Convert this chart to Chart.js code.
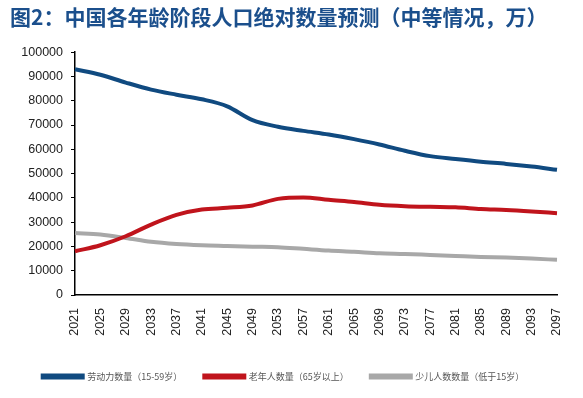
<!DOCTYPE html>
<html>
<head>
<meta charset="utf-8">
<script src="https://cdn.jsdelivr.net/npm/chart.js@4/dist/chart.umd.min.js"></script>
<style>
  html, body { margin: 0; padding: 0; background: #fff; }
  #wrap { width: 583px; height: 398px; }
</style>
</head>
<body>
<div id="wrap"><canvas id="line-chart"></canvas></div>
<script>
// years shown on the axis (every 4th year)
const years = [2021, 2025, 2029, 2033, 2037, 2041, 2045, 2049, 2053, 2057,
               2061, 2065, 2069, 2073, 2077, 2081, 2085, 2089, 2093, 2097];

// 万人
const labour = [93000, 90700, 87500, 84600, 82500, 80600, 77700, 72000, 69300, 67600,
                66100, 64200, 62000, 59400, 57200, 56000, 54900, 54000, 52900, 51600];
const elderly = [18000, 20500, 24200, 29000, 33000, 35200, 35900, 36900, 39600, 40200,
                 39200, 38300, 37200, 36600, 36300, 36100, 35400, 35000, 34400, 33700];
const children = [25500, 24900, 23500, 21900, 21000, 20500, 20200, 19900, 19700, 19000,
                  18300, 17800, 17200, 16900, 16500, 16100, 15700, 15400, 15000, 14500];

const yTicks = [0, 10000, 20000, 30000, 40000, 50000, 60000, 70000, 80000, 90000, 100000];

const tickFont = { family: "'Liberation Sans', Arial, sans-serif", size: 12.5 };

new Chart(document.getElementById("line-chart"), {
  type: 'line',
  data: {
    labels: years.map(String),
    datasets: [
      {
        label: "劳动力数量（15-59岁）",
        data: labour,
        borderColor: "#104a80",
        backgroundColor: "#104a80"
      },
      {
        label: "老年人数量（65岁以上）",
        data: elderly,
        borderColor: "#c0141c",
        backgroundColor: "#c0141c"
      },
      {
        label: "少儿人数数量（低于15岁）",
        data: children,
        borderColor: "#a8a8a8",
        backgroundColor: "#a8a8a8"
      }
    ]
  },
  options: {
    responsive: true,
    maintainAspectRatio: false,
    animation: false,
    layout: { padding: { left: 10, right: 26, top: 0, bottom: 7 } },
    elements: {
      line: { borderWidth: 4, tension: 0.4, cubicInterpolationMode: 'monotone' },
      point: { radius: 0 }
    },
    plugins: {
      title: {
        display: true,
        text: "图2：中国各年龄阶段人口绝对数量预测（中等情况，万）",
        align: 'start',
        color: "#1b4f8c",
        font: { family: "'Noto Sans CJK SC', sans-serif", size: 21, weight: 'bold' },
        padding: { top: 4, bottom: 23 }
      },
      legend: {
        position: 'bottom',
        labels: {
          boxWidth: 40,
          boxHeight: 2,
          padding: 22,
          color: "#555",
          font: { family: "'Noto Sans CJK SC', sans-serif", size: 9 }
        }
      },
      tooltip: { enabled: false }
    },
    scales: {
      x: {
        offset: false,
        grid: { display: false },
        border: { color: "#000", width: 1.5 },
        ticks: {
          color: "#222",
          font: tickFont,
          maxRotation: 90,
          minRotation: 90,
          autoSkip: false,
          padding: 5
        },
        afterFit: (scale) => { scale.height = 55; }
      },
      y: {
        min: 0,
        max: 100000,
        afterBuildTicks: (scale) => { scale.ticks = yTicks.map(v => ({ value: v })); },
        grid: { display: true, drawOnChartArea: false, color: "#000", tickLength: 4 },
        border: { color: "#000", width: 1.5 },
        ticks: { color: "#222", font: tickFont, padding: 8, callback: (v) => String(v) },
        afterFit: (scale) => { scale.width = 65; }
      }
    }
  }
});
</script>
</body>
</html>
